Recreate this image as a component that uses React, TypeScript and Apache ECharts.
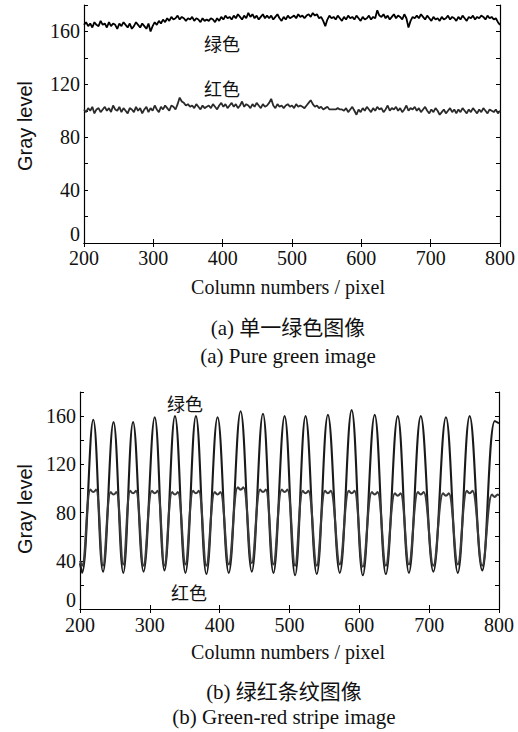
import React, { useEffect, useRef } from "react";
import * as echarts from "echarts";

// ---------- Panel (a): pure green image, sampled every TOP_STEP columns ----------
const TOP_START = 200;
const TOP_STEP = 3;
const topGreen: number[] = [
  165,167,164,166,163,167,165,164,168,165,
  166,163,167,164,166,165,162,166,164,167,
  165,163,166,162,164,167,165,163,166,164,
  162,166,160,164,167,165,168,166,169,167,
  170,168,171,169,170,172,169,171,170,168,
  170,169,171,168,170,169,167,170,168,169,
  168,170,169,167,170,168,171,169,172,170,
  171,169,172,170,173,171,169,172,170,174,
  171,173,170,172,169,171,173,170,172,170,
  172,169,171,173,170,168,171,169,172,170,
  171,172,170,173,171,172,170,172,173,171,
  174,172,173,170,171,168,164,169,172,170,
  171,169,172,170,168,171,169,172,170,171,
  169,172,170,168,171,169,170,172,169,171,
  170,176,172,171,173,170,172,169,171,173,
  170,172,171,169,173,170,163,168,171,170,
  172,170,173,171,169,172,170,168,171,169,
  170,168,171,169,170,172,169,171,170,168,
  171,169,172,170,168,171,170,172,169,171,
  170,172,171,169,172,170,171,169,170,167,
  165,
];
const topRed: number[] = [
  101,99,102,100,103,98,101,102,99,101,
  103,100,102,99,104,101,100,103,99,102,
  100,98,102,101,99,103,100,102,98,101,
  103,99,102,100,104,101,99,103,101,104,
  102,100,104,103,101,105,110,107,106,104,
  105,103,104,102,105,103,101,104,102,103,
  104,102,105,103,101,104,106,103,105,102,
  104,106,103,105,102,104,107,103,105,104,
  102,105,103,106,104,102,105,103,104,106,
  109,104,102,105,103,104,102,104,105,103,
  104,102,105,103,104,103,102,104,106,108,
  105,103,104,102,103,101,102,103,101,101,
  101,101,102,101,101,100,102,99,101,103,
  100,97,101,99,102,100,103,101,99,102,
  100,103,101,102,99,101,104,100,102,101,
  103,100,102,99,101,104,100,102,101,103,
  100,102,99,101,103,100,98,101,99,102,
  100,97,99,101,98,100,102,99,101,98,
  101,99,102,100,98,101,99,102,100,98,
  101,99,102,100,98,101,100,99,101,98,
  100,
];

// ---------- Panel (b): green-red stripe image, read at peaks and troughs ----------
const stripeStart = { x: 200, green: 38, red: 40 };
const stripeEnd = { x: 800, green: 154, red: 94 };
const troughX = [203, 233, 262, 291, 321, 351, 381, 413, 446, 477, 508, 539, 572, 605, 638, 671, 706, 741, 776];
const peakX = [219, 248, 276, 307, 336, 366, 397, 430, 462, 493, 523, 555, 589, 622, 655, 688, 724, 758, 794];
const greenPeak = [157, 155, 155, 159, 160, 160, 159, 164, 162, 160, 160, 161, 165, 161, 160, 160, 159, 160, 156];
const greenTrough = [30, 31, 30, 31, 32, 30, 29, 30, 31, 30, 28, 29, 30, 28, 29, 30, 31, 30, 32];
const redPeak = [99, 97, 98, 98, 97, 98, 97, 101, 99, 99, 98, 98, 98, 97, 96, 97, 96, 98, 95];
const redTrough = [36, 36, 37, 36, 36, 37, 36, 37, 38, 37, 36, 36, 37, 35, 36, 37, 36, 37, 36];

// axis ticks
const X_MIN = 200, X_MAX = 800, X_INT = 100;
const Y_MIN = 0, Y_MAX = 180, Y_INT = 20, Y_LABEL_EVERY = 40;

const SERIF = '"Liberation Serif", "Times New Roman", "Noto Sans CJK SC", serif';
const SANS = '"Liberation Sans", Arial, sans-serif';
const CJK = '"Noto Sans CJK SC", "Liberation Serif", serif';

function buildGreenStripe(): number[][] {
  const d: number[][] = [[stripeStart.x, stripeStart.green]];
  for (let i = 0; i < peakX.length; i++) {
    d.push([troughX[i], greenTrough[i]]);
    d.push([peakX[i], greenPeak[i]]);
  }
  d.push([stripeEnd.x, stripeEnd.green]);
  return d;
}
function buildRedStripe(): number[][] {
  const d: number[][] = [[stripeStart.x, stripeStart.red]];
  for (let i = 0; i < peakX.length; i++) {
    d.push([troughX[i], redTrough[i]]);
    d.push([peakX[i] - 4, redPeak[i]]);
    d.push([peakX[i], redPeak[i] - 2]);
    d.push([peakX[i] + 4, redPeak[i]]);
  }
  d.push([stripeEnd.x, stripeEnd.red]);
  return d;
}

export default function App() {
  const ref = useRef<HTMLDivElement>(null);
  useEffect(() => {
    if (!ref.current) return;
    const chart = echarts.init(ref.current, null, { renderer: "svg" });
    const axisLine = { show: true, lineStyle: { color: "#000", width: 1.2 } };
    const tick = { show: true, inside: true, length: 4, lineStyle: { color: "#000" } };
    const xMain = (gi: number, margin: number) => ({
      type: "value", gridIndex: gi, position: "bottom", min: X_MIN, max: X_MAX, interval: X_INT,
      axisLine, axisTick: tick,
      axisLabel: { show: true, margin, color: "#111", fontFamily: SERIF, fontSize: 20 },
      splitLine: { show: false },
    });
    const xMirror = (gi: number) => ({
      type: "value", gridIndex: gi, position: "top", min: X_MIN, max: X_MAX, interval: X_INT,
      axisLine, axisTick: tick, axisLabel: { show: false }, splitLine: { show: false },
    });
    const yMain = (gi: number) => ({
      type: "value", gridIndex: gi, position: "left", min: Y_MIN, max: Y_MAX, interval: Y_INT,
      axisLine, axisTick: tick,
      axisLabel: {
        show: true, margin: 4, color: "#111", fontFamily: SERIF, fontSize: 20, lineHeight: 18,
        verticalAlignMinLabel: "bottom",
        formatter: (v: number) => (v % Y_LABEL_EVERY === 0 ? String(v) : ""),
      },
      splitLine: { show: false },
    });
    const yMirror = (gi: number) => ({
      type: "value", gridIndex: gi, position: "right", min: Y_MIN, max: Y_MAX, interval: Y_INT,
      axisLine, axisTick: tick, axisLabel: { show: false }, splitLine: { show: false },
    });
    const txt = (text: string, x: number, y: number, font: string, rotation = 0) => ({
      type: "text", x, y, rotation, silent: true,
      style: { text, font, fill: "#111", textAlign: "center", textVerticalAlign: "middle" },
    });

    chart.setOption({
      animation: false,
      backgroundColor: "#fff",
      grid: [
        { left: 84, top: 5, width: 416, height: 238 },
        { left: 80, top: 392, width: 419, height: 217 },
      ],
      xAxis: [xMain(0, 5), xMirror(0), xMain(1, 6), xMirror(1)],
      yAxis: [yMain(0), yMirror(0), yMain(1), yMirror(1)],
      series: [
        {
          name: "绿色", type: "line", xAxisIndex: 0, yAxisIndex: 0, showSymbol: false,
          lineStyle: { color: "#000", width: 1.8 },
          data: topGreen.map((v, i) => [TOP_START + i * TOP_STEP, v]),
        },
        {
          name: "红色", type: "line", xAxisIndex: 0, yAxisIndex: 0, showSymbol: false,
          lineStyle: { color: "#2a2a2a", width: 1.8 },
          data: topRed.map((v, i) => [TOP_START + i * TOP_STEP, v]),
        },
        {
          name: "绿色条纹", type: "line", xAxisIndex: 2, yAxisIndex: 2, showSymbol: false,
          smooth: 0.4, lineStyle: { color: "#1a1a1a", width: 2.1 },
          data: buildGreenStripe(),
        },
        {
          name: "红色条纹", type: "line", xAxisIndex: 2, yAxisIndex: 2, showSymbol: false,
          smooth: 0.4, lineStyle: { color: "#3a3a3a", width: 2.1 },
          data: buildRedStripe(),
        },
      ],
      graphic: [
        txt("绿色", 222, 43, `18px ${CJK}`),
        txt("红色", 222, 88, `18px ${CJK}`),
        txt("Gray level", 25, 126, `20px ${SANS}`, Math.PI / 2),
        txt("Column numbers / pixel", 288, 287, `20px ${SERIF}`),
        txt("(a) 单一绿色图像", 288, 328, `21px ${SERIF}`),
        txt("(a) Pure green image", 288, 356, `21px ${SERIF}`),
        txt("绿色", 185, 403, `18px ${CJK}`),
        txt("红色", 189, 592, `18px ${CJK}`),
        txt("Gray level", 25, 509, `20px ${SANS}`, Math.PI / 2),
        txt("Column numbers / pixel", 288, 652, `20px ${SERIF}`),
        txt("(b) 绿红条纹图像", 284, 692, `21px ${SERIF}`),
        txt("(b) Green-red stripe image", 284, 717, `21px ${SERIF}`),
      ],
    });
    return () => chart.dispose();
  }, []);
  return (
    <div
      ref={ref}
      style={{ position: "absolute", left: 0, top: 0, width: 518, height: 732, background: "#fff" }}
    />
  );
}
